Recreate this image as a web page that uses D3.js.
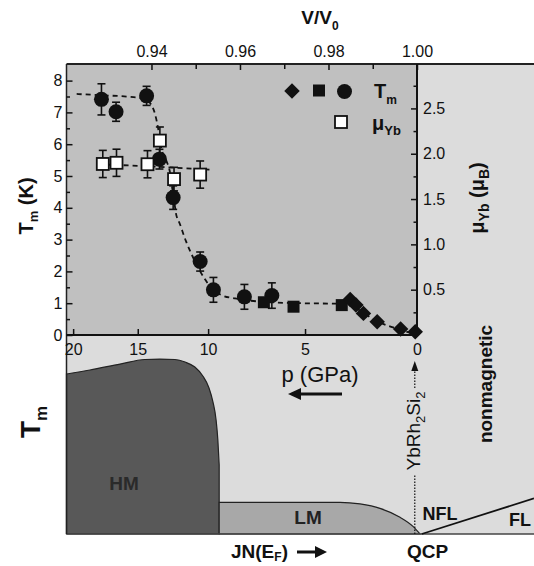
<!DOCTYPE html>
<html><head><meta charset="utf-8">
<script src="https://cdn.jsdelivr.net/npm/d3@7"></script>
<style>body{margin:0;background:#fff} svg{display:block;font-family:"Liberation Sans",Arial,sans-serif}</style>
</head><body><svg id="c" width="534" height="566"></svg>
<script>
// ---------- data ----------
const vTicks = [0.94, 0.96, 0.98, 1.00];
const vMinorTicks = [0.95, 0.97, 0.99];
const pTickLabels = ["20", "15", "10", "5", "0"];
const pTickV = [0.9223, 0.9369, 0.9528, 0.9747, 1.0];
const tTicks = [0, 1, 2, 3, 4, 5, 6, 7, 8];
const tMinorTicks = [0.5, 1.5, 2.5, 3.5, 4.5, 5.5, 6.5, 7.5];
const muTicks = [0.5, 1.0, 1.5, 2.0, 2.5];
const muMinorTicks = [0.25, 0.75, 1.25, 1.75, 2.25, 2.75];

// T_m, circles (with error bars)
const circV = [0.9287, 0.9320, 0.9389, 0.9418, 0.9449, 0.9510, 0.9540, 0.9610, 0.9672];
const circT = [7.41, 7.02, 7.52, 5.53, 4.32, 2.31, 1.42, 1.20, 1.24];
const circErr = [0.49, 0.30, 0.30, 0.31, 0.37, 0.30, 0.39, 0.39, 0.40];
// T_m, squares
const sqV = [0.9654, 0.9721, 0.9830];
const sqT = [1.03, 0.89, 0.94];
// T_m, diamonds
const diaV = [0.9849, 0.9862, 0.9879, 0.9910, 0.9963, 0.9996];
const diaT = [1.12, 0.94, 0.68, 0.42, 0.19, 0.10];
// mu_Yb, open squares
const muV = [0.9290, 0.9321, 0.9391, 0.9419, 0.9451, 0.9510];
const muVal = [1.887, 1.90, 1.884, 2.145, 1.72, 1.77];
const muErr = [0.15, 0.15, 0.15, 0.15, 0.13, 0.15];
// dashed guide lines
const fitTV = [0.9231, 0.9284, 0.9351, 0.9385, 0.9399, 0.9408, 0.9415, 0.9421, 0.9433, 0.9442, 0.9446, 0.9451, 0.9455, 0.9464, 0.9478, 0.9492, 0.9510, 0.9521, 0.9537, 0.9559, 0.9589, 0.9623, 0.9668, 0.9736, 0.9837, 0.9853, 0.9876, 0.9912, 0.9962, 1.0];
const fitT = [7.58, 7.54, 7.49, 7.43, 7.25, 6.95, 6.5, 5.95, 5.5, 5.1, 4.7, 4.25, 3.85, 3.5, 2.95, 2.5, 2.0, 1.75, 1.45, 1.25, 1.15, 1.08, 1.03, 1.0, 0.98, 0.93, 0.72, 0.42, 0.17, 0.0];
const fitMuV = [0.9276, 0.9400, 0.9540];
const fitMu = [1.884, 1.86, 1.821];

// schematic phase diagram (x in V/V0, height as fraction of panel)
const hmV = [0.9208, 0.9261, 0.9329, 0.9385, 0.9419, 0.9453, 0.9476, 0.9498, 0.9516, 0.9530, 0.9539, 0.9546, 0.9550, 0.9553, 0.9553];
const hmS = [0.804, 0.824, 0.854, 0.877, 0.879, 0.877, 0.864, 0.839, 0.794, 0.734, 0.663, 0.573, 0.472, 0.347, 0];
const lmV = [0.9553, 0.9826, 0.98712, 0.99164, 0.99616, 0.99916, 1.00068];
const lmS = [0.159, 0.159, 0.151, 0.129, 0.084, 0.037, 0];
const flV = [1.00106, 1.02644];
const flS = [0, 0.179];
const qcpV = 0.9995;

// ---------- layout ----------
const svg = d3.select("#c");
const L = 66.5, R = 417, T = 64, B = 335, BASE = 534, W = 534;
const x = d3.scaleLinear().domain([0.9208, 1.0]).range([L, R]);
const yT = d3.scaleLinear().domain([0, 8.5]).range([B, 64.7]);
const yMu = d3.scaleLinear().domain([0, 2.99]).range([B, T]);
const yS = d3.scaleLinear().domain([0, 1]).range([BASE, B]);

const LIGHT = "#dcdcdc", MID = "#c0c0c0";

// backgrounds
svg.append("rect").attr("x", L).attr("y", T).attr("width", W - L).attr("height", BASE - T).attr("fill", LIGHT);
svg.append("rect").attr("x", L).attr("y", T).attr("width", R - L).attr("height", B - T).attr("fill", MID);

// ---------- schematic ----------
const sch = svg.append("g");
const hmPts = hmV.map((v, i) => [x(v), yS(hmS[i])]);
sch.append("path")
  .attr("d", d3.line().curve(d3.curveMonotoneX)(hmPts.slice(0, -1)) + `L${x(hmV[hmV.length-1])},${yS(0)}L${x(hmV[0])},${yS(0)}Z`)
  .attr("fill", "#585858").attr("stroke", "#222").attr("stroke-width", 1.2);
const lmPts = lmV.map((v, i) => [x(v), yS(lmS[i])]);
sch.append("path")
  .attr("d", `M${x(lmV[0])},${yS(0)}` + d3.line().curve(d3.curveMonotoneX)(lmPts).replace(/^M/, "L") + "Z")
  .attr("fill", "#a8a8a8").attr("stroke", "#222").attr("stroke-width", 1.2);
// baseline
sch.append("line").attr("x1", L).attr("x2", W).attr("y1", BASE).attr("y2", BASE).attr("stroke", "#444").attr("stroke-width", 1.5);
// FL line
sch.append("line").attr("x1", x(flV[0])).attr("y1", yS(flS[0])).attr("x2", x(flV[1])).attr("y2", yS(flS[1]))
  .attr("stroke", "#111").attr("stroke-width", 1.8);
// dotted line at YbRh2Si2
const qx = x(qcpV);
sch.append("line").attr("x1", qx).attr("x2", qx).attr("y1", BASE).attr("y2", 474).attr("stroke", "#111").attr("stroke-width", 1.2).attr("stroke-dasharray", "1.5,1.5");
sch.append("line").attr("x1", qx).attr("x2", qx).attr("y1", 388).attr("y2", 369).attr("stroke", "#111").attr("stroke-width", 1.2).attr("stroke-dasharray", "1.5,1.5");
sch.append("path").attr("d", `M${qx},361L${qx-3.5},371L${qx+3.5},371Z`).attr("fill", "#111");
// schematic labels
sch.append("text").attr("transform", `translate(${qx+5.5},431) rotate(-90)`).attr("text-anchor", "middle")
  .attr("font-size", 19).attr("fill", "#111")
  .call(t => { t.append("tspan").text("YbRh"); t.append("tspan").attr("font-size", 13).attr("dy", 5).text("2");
               t.append("tspan").attr("dy", -5).text("Si"); t.append("tspan").attr("font-size", 13).attr("dy", 5).text("2"); });
sch.append("text").attr("transform", "translate(492,384) rotate(-90)").attr("text-anchor", "middle")
  .attr("font-size", 19).attr("font-weight", "bold").attr("fill", "#111").text("nonmagnetic");
sch.append("text").attr("x", 124).attr("y", 490).attr("text-anchor", "middle").attr("font-size", 19).attr("font-weight", "bold").attr("fill", "#2a2a2a").text("HM");
sch.append("text").attr("x", 308).attr("y", 524).attr("text-anchor", "middle").attr("font-size", 19).attr("font-weight", "bold").attr("fill", "#222").text("LM");
sch.append("text").attr("x", 440).attr("y", 520).attr("text-anchor", "middle").attr("font-size", 18).attr("font-weight", "bold").attr("fill", "#111").text("NFL");
sch.append("text").attr("x", 520).attr("y", 526).attr("text-anchor", "middle").attr("font-size", 18).attr("font-weight", "bold").attr("fill", "#111").text("FL");
svg.append("text").attr("x", 427.5).attr("y", 558).attr("text-anchor", "middle").attr("font-size", 19).attr("font-weight", "bold").attr("fill", "#111").text("QCP");
svg.append("text").attr("x", 231).attr("y", 558).attr("font-size", 19).attr("font-weight", "bold").attr("fill", "#111")
  .call(t => { t.append("tspan").text("JN(E"); t.append("tspan").attr("font-size", 12).attr("dy", 3).text("F"); t.append("tspan").attr("dy", -3).text(")"); });
svg.append("line").attr("x1", 297).attr("x2", 318).attr("y1", 552).attr("y2", 552).attr("stroke", "#111").attr("stroke-width", 3);
svg.append("path").attr("d", "M327,552L315,546L315,558Z").attr("fill", "#111");
svg.append("text").attr("transform", "translate(40,422) rotate(-90)").attr("text-anchor", "middle").attr("font-size", 28).attr("font-weight", "bold").attr("fill", "#111")
  .call(t => { t.append("tspan").text("T"); t.append("tspan").attr("font-size", 17).attr("dy", 7).text("m"); });
// p (GPa) + arrow
svg.append("text").attr("x", 320).attr("y", 381.5).attr("text-anchor", "middle").attr("font-size", 22).attr("fill", "#111").text("p (GPa)");
svg.append("line").attr("x1", 342).attr("x2", 298).attr("y1", 394).attr("y2", 394).attr("stroke", "#111").attr("stroke-width", 3);
svg.append("path").attr("d", "M288,394L301,388L301,400Z").attr("fill", "#111");

// ---------- frame ----------
svg.append("line").attr("x1", L).attr("x2", W).attr("y1", T).attr("y2", T).attr("stroke", "#222").attr("stroke-width", 2);
svg.append("line").attr("x1", L).attr("x2", L).attr("y1", T).attr("y2", BASE).attr("stroke", "#222").attr("stroke-width", 1.5);
svg.append("line").attr("x1", R).attr("x2", R).attr("y1", T).attr("y2", B).attr("stroke", "#111").attr("stroke-width", 2);
svg.append("line").attr("x1", L).attr("x2", R).attr("y1", B).attr("y2", B).attr("stroke", "#111").attr("stroke-width", 2);

// ---------- axes ----------
function styleAxis(g) { g.select(".domain").remove(); g.selectAll("line").attr("stroke", "#111").attr("stroke-width", 1.5); g.selectAll("text").attr("fill", "#111").attr("font-size", 16).attr("font-family", '"Liberation Sans",Arial,sans-serif'); }
svg.append("g").attr("transform", `translate(${L},0)`).call(d3.axisLeft(yT).tickValues(tTicks).tickFormat(d3.format("d")).tickSizeInner(-6).tickSizeOuter(0).tickPadding(4)).call(styleAxis);
svg.append("g").attr("transform", `translate(${L},0)`).call(d3.axisLeft(yT).tickValues(tMinorTicks).tickFormat("").tickSizeInner(-3.5).tickSizeOuter(0)).call(styleAxis);
svg.append("g").attr("transform", `translate(${R},0)`).call(d3.axisRight(yMu).tickValues(muTicks).tickFormat(d3.format(".1f")).tickSizeInner(-6).tickSizeOuter(0).tickPadding(6)).call(styleAxis);
svg.append("g").attr("transform", `translate(${R},0)`).call(d3.axisRight(yMu).tickValues(muMinorTicks).tickFormat("").tickSizeInner(-3.5).tickSizeOuter(0)).call(styleAxis);
svg.append("g").attr("transform", `translate(0,${T})`).call(d3.axisTop(x).tickValues(vTicks).tickFormat(d3.format(".2f")).tickSizeInner(-6).tickSizeOuter(0).tickPadding(7)).call(styleAxis);
svg.append("g").attr("transform", `translate(0,${T})`).call(d3.axisTop(x).tickValues(vMinorTicks).tickFormat("").tickSizeInner(-5).tickSizeOuter(0)).call(styleAxis);
svg.append("g").attr("transform", `translate(0,${B})`).call(d3.axisBottom(x).tickValues(pTickV).tickFormat((d, i) => pTickLabels[i]).tickSizeInner(-6).tickSizeOuter(0).tickPadding(9)).call(styleAxis);

// axis titles
svg.append("text").attr("x", 320).attr("y", 24).attr("text-anchor", "middle").attr("font-size", 19).attr("font-weight", "bold").attr("fill", "#111")
  .call(t => { t.append("tspan").text("V/V"); t.append("tspan").attr("font-size", 12).attr("dy", 6).text("0"); });
svg.append("text").attr("transform", "translate(33,206) rotate(-90)").attr("text-anchor", "middle").attr("font-size", 20).attr("font-weight", "bold").attr("fill", "#111")
  .call(t => { t.append("tspan").text("T"); t.append("tspan").attr("font-size", 13).attr("dy", 5).text("m"); t.append("tspan").attr("dy", -5).text(" (K)"); });
svg.append("text").attr("transform", "translate(484,198) rotate(-90)").attr("text-anchor", "middle").attr("font-size", 20).attr("font-weight", "bold").attr("fill", "#111")
  .call(t => { t.append("tspan").text("\u03bc"); t.append("tspan").attr("font-size", 14).attr("dy", 5).text("Yb");
               t.append("tspan").attr("dy", -5).text(" (\u03bc"); t.append("tspan").attr("font-size", 14).attr("dy", 5).text("B"); t.append("tspan").attr("dy", -5).text(")"); });

// ---------- data marks ----------
const plot = svg.append("g");
const dash = d3.line().curve(d3.curveMonotoneX);
plot.append("path").attr("d", dash(fitTV.map((v, i) => [x(v), yT(fitT[i])]))).attr("fill", "none").attr("stroke", "#111").attr("stroke-width", 1.8).attr("stroke-dasharray", "5,4");
plot.append("path").attr("d", dash(fitMuV.map((v, i) => [x(v), yMu(fitMu[i])]))).attr("fill", "none").attr("stroke", "#111").attr("stroke-width", 1.8).attr("stroke-dasharray", "5,4");

function errBars(vs, vals, errs, ys) {
  const g = plot.append("g").attr("stroke", "#111").attr("stroke-width", 1.6);
  vs.forEach((v, i) => {
    const cx = x(v), y1 = ys(vals[i] + errs[i]), y2 = ys(vals[i] - errs[i]);
    g.append("line").attr("x1", cx).attr("x2", cx).attr("y1", y1).attr("y2", y2);
    g.append("line").attr("x1", cx - 4).attr("x2", cx + 4).attr("y1", y1).attr("y2", y1);
    g.append("line").attr("x1", cx - 4).attr("x2", cx + 4).attr("y1", y2).attr("y2", y2);
  });
}
errBars(circV, circT, circErr, yT);
errBars(muV, muVal, muErr, yMu);

plot.selectAll(".circ").data(circV).join("circle").attr("cx", d => x(d)).attr("cy", (d, i) => yT(circT[i])).attr("r", 7.5).attr("fill", "#111");
plot.selectAll(".sq").data(sqV).join("rect").attr("x", d => x(d) - 6).attr("y", (d, i) => yT(sqT[i]) - 6).attr("width", 12).attr("height", 12).attr("fill", "#111");
const diamond = d3.symbol().type(d3.symbolSquare).size(120);
plot.selectAll(".dia").data(diaV).join("path").attr("d", diamond).attr("transform", (d, i) => `translate(${x(d)},${yT(diaT[i])}) rotate(45)`).attr("fill", "#111");
plot.selectAll(".mu").data(muV).join("rect").attr("x", d => x(d) - 6).attr("y", (d, i) => yMu(muVal[i]) - 6).attr("width", 12).attr("height", 12).attr("fill", "#fff").attr("stroke", "#111").attr("stroke-width", 1.8);

// ---------- legend ----------
const lg = svg.append("g");
lg.append("path").attr("d", diamond).attr("transform", "translate(292,91) rotate(45)").attr("fill", "#111");
lg.append("rect").attr("x", 313).attr("y", 84.5).attr("width", 12).attr("height", 12).attr("fill", "#111");
lg.append("circle").attr("cx", 344.5).attr("cy", 91.5).attr("r", 7.5).attr("fill", "#111");
lg.append("rect").attr("x", 335).attr("y", 116).attr("width", 12).attr("height", 12).attr("fill", "#fff").attr("stroke", "#111").attr("stroke-width", 1.8);
lg.append("text").attr("x", 374).attr("y", 98).attr("font-size", 20).attr("font-weight", "bold").attr("fill", "#111")
  .call(t => { t.append("tspan").text("T"); t.append("tspan").attr("font-size", 12).attr("dy", 6).text("m"); });
lg.append("text").attr("x", 372).attr("y", 130).attr("font-size", 20).attr("font-weight", "bold").attr("fill", "#111")
  .call(t => { t.append("tspan").text("\u03bc"); t.append("tspan").attr("font-size", 13).attr("dy", 5).text("Yb"); });
</script></body></html>
